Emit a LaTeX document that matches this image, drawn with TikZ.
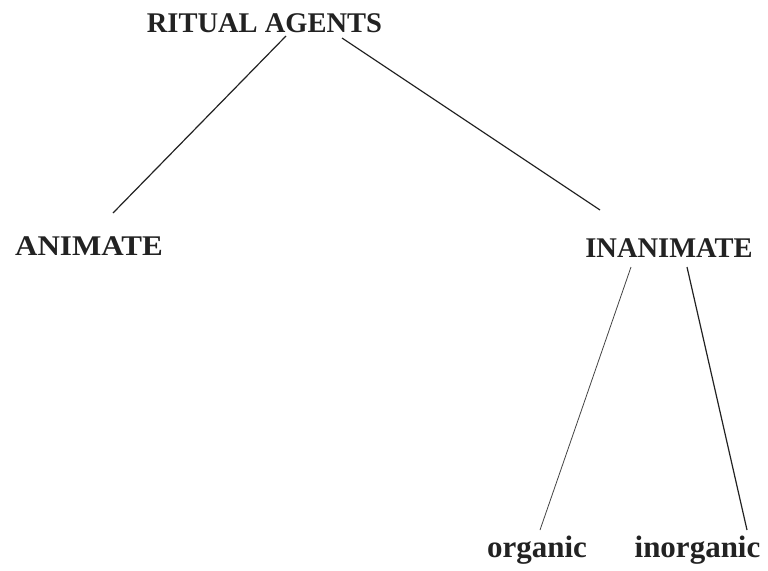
\documentclass[tikz,border=0pt]{standalone}
\usepackage{fontspec}
\setmainfont{Liberation Serif}
\usetikzlibrary{calc}
\definecolor{ink}{RGB}{34,34,34}
\tikzset{
  capsnode/.style={inner sep=0pt, anchor=base, text=ink, font=\bfseries\fontsize{28.5}{30}\selectfont},
  lownode/.style={inner sep=0pt, anchor=base, text=ink, font=\bfseries\fontsize{31}{32}\selectfont},
  link/.style={draw=ink, line width=1.2pt},
  thinlink/.style={draw=ink!85, line width=0.8pt}
}
\begin{document}
\begin{tikzpicture}[x=1pt,y=-1pt]
\useasboundingbox (0,0) rectangle (768,570);
\node[capsnode] (ra) at (264.5,32) {RITUAL AGENTS};
\node[capsnode] (an) at (89,255) {\scalebox{1.09}[1]{ANIMATE}};
\node[capsnode] (in) at (669,257) {INANIMATE};
\node[lownode] (org) at (537,557) {organic};
\node[lownode] (inorg) at (697.5,557) {inorganic};
\draw[link] ($(ra.base)+(21.5,4)$) -- ($(an.base)+(24,-42)$);
\draw[link] ($(ra.base)+(77.5,6)$) -- ($(in.base)+(-69,-47)$);
\draw[thinlink] ($(in.base)+(-38,10)$) -- ($(org.base)+(3,-27)$);
\draw[link] ($(in.base)+(18,10)$) -- ($(inorg.base)+(49.5,-27)$);
\end{tikzpicture}
\end{document}
